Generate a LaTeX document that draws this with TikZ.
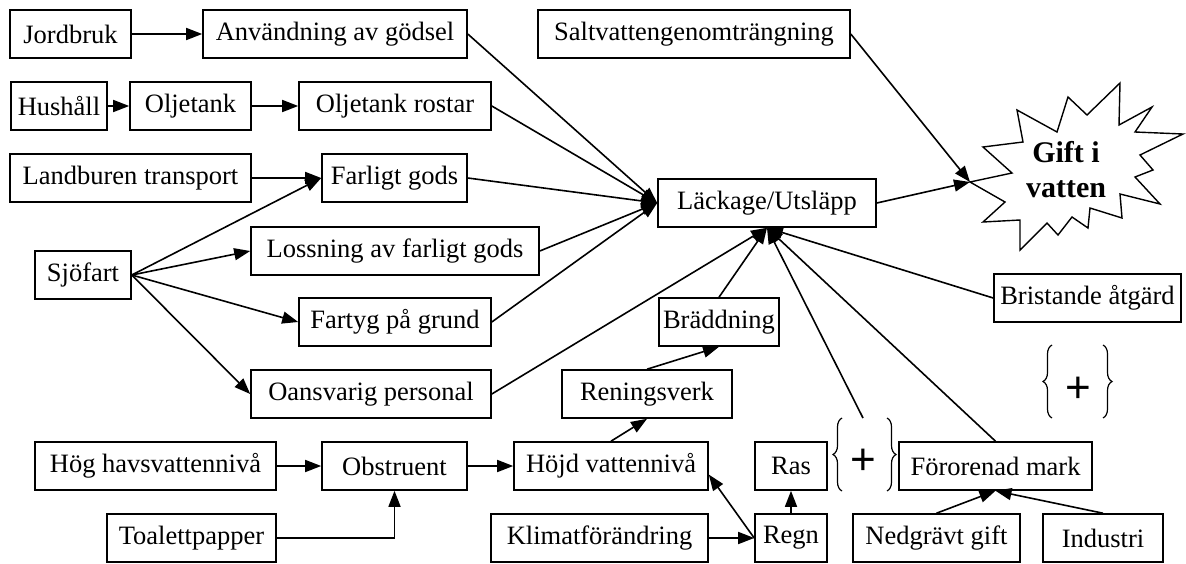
\documentclass[tikz,border=0pt]{standalone}
\usepackage{fontspec}
\setmainfont{Liberation Serif}
\newfontfamily\plusfont{Liberation Sans}
\usetikzlibrary{arrows.meta,decorations.pathreplacing}

\begin{document}
\begin{tikzpicture}[x=1pt,y=-1pt,
    box/.style={draw, line width=1.6pt, minimum height=48pt, inner sep=0pt, font=\fontsize{26.5}{31}\selectfont},
    arr/.style={line width=1.6pt, -{Triangle[length=16pt,width=12pt]}},
    curly/.style={decorate, decoration={brace, amplitude=9pt}, line width=1.2pt},
    plus/.style={font=\plusfont\fontsize{44}{44}\selectfont, inner sep=0pt}]
    \useasboundingbox (0,0) rectangle (1186,563);

    \node[box, minimum width=121pt] (jordbruk) at (70.5,34) {Jordbruk};
    \node[box, minimum width=264pt] (anvand) at (335,34) {Användning av gödsel};
    \node[box, minimum width=312pt] (salt) at (694,34) {Saltvattengenomträngning};
    \node[box, minimum width=96pt] (hushall) at (59,106) {Hushåll};
    \node[box, minimum width=121pt] (oljetank) at (190.5,106) {Oljetank};
    \node[box, minimum width=192pt] (rostar) at (395,106) {Oljetank rostar};
    \node[box, minimum width=241pt] (landburen) at (130.5,178) {Landburen transport};
    \node[box, minimum width=145pt] (farligt) at (394.5,178) {Farligt gods};
    \node[box, minimum width=218pt] (lackage) at (767,203) {Läckage/Utsläpp};
    \node[box, minimum width=288pt] (lossning) at (395,251) {Lossning av farligt gods};
    \node[box, minimum width=96pt] (sjofart) at (83,275) {Sjöfart};
    \node[box, minimum width=187pt] (bristande) at (1087.5,298) {Bristande åtgärd};
    \node[box, minimum width=192pt] (fartyg) at (395,322) {Fartyg på grund};
    \node[box, minimum width=120pt] (braddning) at (719,322) {Bräddning};
    \node[box, minimum width=240pt] (oansvarig) at (371,394) {Oansvarig personal};
    \node[box, minimum width=170pt] (rening) at (647,394) {Reningsverk};
    \node[box, minimum width=241pt] (hog) at (155.5,466) {Hög havsvattennivå};
    \node[box, minimum width=145pt] (obstruent) at (394.5,466) {Obstruent};
    \node[box, minimum width=194pt] (hojd) at (611,466) {Höjd vattennivå};
    \node[box, minimum width=72pt] (ras) at (791,466) {Ras};
    \node[box, minimum width=193pt] (fororenad) at (995.5,466) {Förorenad mark};
    \node[box, minimum width=169pt] (toalett) at (191.5,538) {Toalettpapper};
    \node[box, minimum width=217pt] (klimat) at (599.5,538) {Klimatförändring};
    \node[box, minimum width=72pt] (regn) at (791,538) {Regn};
    \node[box, minimum width=167pt] (nedgravt) at (936.5,538) {Nedgrävt gift};
    \node[box, minimum width=120pt] (industri) at (1103,538) {Industri};

    \draw[line width=1.4pt, fill=white] (1120,83) -- (1119,125) -- (1152,107) -- (1135,132) -- (1183,134)
        -- (1140,155) -- (1153,170) -- (1135,177) -- (1160,204) -- (1120,194) -- (1122,218) -- (1090,208)
        -- (1088,228) -- (1072,217) -- (1058,235) -- (1047,223) -- (1020,250) -- (1020,220) -- (983,222)
        -- (1005,202) -- (970,182) -- (1012,173) -- (983,147) -- (1023,142) -- (1017,110) -- (1057,132)
        -- (1068,97) -- (1087,115) -- cycle;
    \node[font=\bfseries\fontsize{30}{35}\selectfont, align=center] (gift) at (1066,170) {Gift i\\vatten};
    \coordinate (giftin) at (970,182);

    \draw[curly] (842,491) -- (842,418);
    \draw[curly] (887,418) -- (887,491);
    \node[plus] (rasplus) at (863,462) {+};
    \coordinate (rastop) at (863,418);
    \draw[curly] (1052,418) -- (1052,345);
    \draw[curly] (1103,345) -- (1103,418);
    \node[plus] (toppplus) at (1078,390) {+};

    \draw[arr] (jordbruk) -- (anvand);
    \draw[arr] (hushall) -- (oljetank);
    \draw[arr] (oljetank) -- (rostar);
    \draw[arr] (landburen) -- (farligt);
    \draw[arr] (sjofart.east) -- (farligt.west);
    \draw[arr] (sjofart.east) -- (lossning.west);
    \draw[arr] (sjofart.east) -- (fartyg.west);
    \draw[arr] (sjofart.east) -- (oansvarig.west);

    \draw[arr] (anvand.east) -- (lackage.west);
    \draw[arr] (rostar.east) -- (lackage.west);
    \draw[arr] (farligt.east) -- (lackage.west);
    \draw[arr] (lossning.east) -- (lackage.west);
    \draw[arr] (fartyg.east) -- (lackage.west);
    \draw[arr] (oansvarig.east) -- (lackage.south);
    \draw[arr] (braddning.north) -- (lackage.south);
    \draw[arr] (rastop) -- (lackage.south);
    \draw[arr] (fororenad.north) -- (lackage.south);
    \draw[arr] (bristande.west) -- (lackage.south);
    \draw[arr] (lackage.east) -- (giftin);
    \draw[arr] (salt.east) -- (giftin);

    \draw[arr] (hog) -- (obstruent);
    \draw[arr] (obstruent) -- (hojd);
    \draw[arr] (toalett.east) -| (obstruent.south);
    \draw[arr] (hojd.north) -- (rening.south);
    \draw[arr] (rening.north) -- (braddning.south);
    \draw[arr] (klimat) -- (regn);
    \draw[arr] (regn.west) -- (hojd.-5);
    \draw[arr] (regn) -- (ras);
    \draw[arr] (nedgravt.north) -- (fororenad.south);
    \draw[arr] (industri.north) -- (fororenad.south);
\end{tikzpicture}
\end{document}
